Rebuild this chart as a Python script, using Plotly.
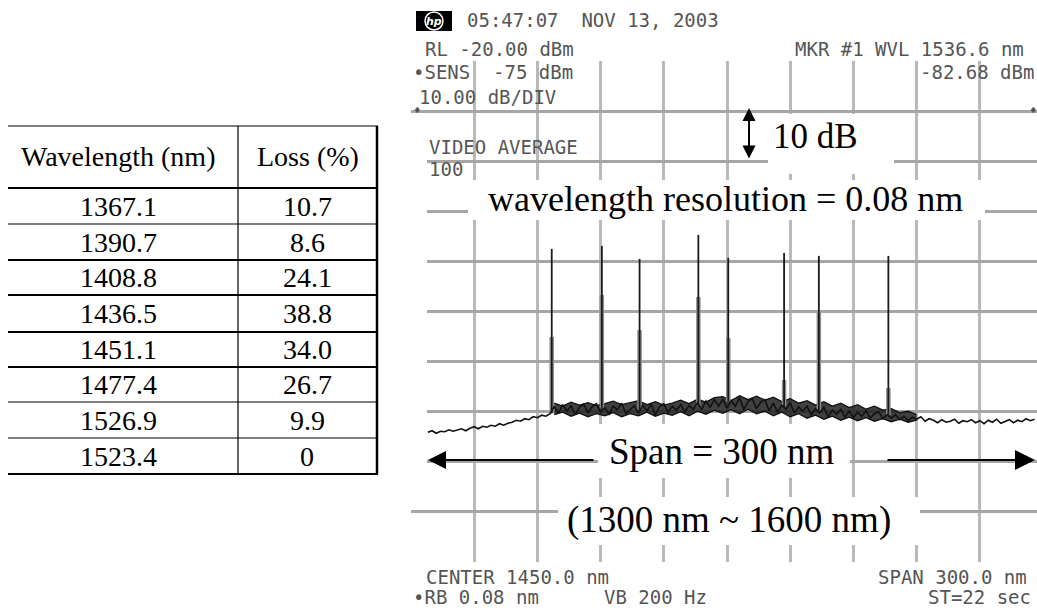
import plotly.graph_objects as go

# ---------------- data ----------------
table_header = ["Wavelength (nm)", "Loss (%)"]
table_wavelength = ["1367.1", "1390.7", "1408.8", "1436.5", "1451.1", "1477.4", "1526.9", "1523.4"]
table_loss = ["10.7", "8.6", "24.1", "38.8", "34.0", "26.7", "9.9", "0"]

# spectrum peaks
peak_nm = [1366.8, 1390.6, 1408.5, 1436.4, 1450.6, 1477.1, 1493.6, 1526.6]
peak_top_dbm = [-57.5, -56.9, -59.5, -54.7, -59.3, -58.3, -58.9, -58.9]
peak_shoulder_dbm = [-75.1, -66.7, -73.7, -67.1, -75.3, -83.7, -70.3, -85.3]
peak_base_dbm = [-90.3, -89.2, -89.6, -88.8, -88.0, -88.9, -89.7, -90.6]

floor_nm = list(range(1308, 1598, 2))
floor_dbm = [
    -94.1, -93.8, -94.3, -93.9, -94.0, -93.6, -93.9, -93.7, -93.4, -93.8,
    -93.3, -93.0, -93.4, -92.9, -93.1, -92.7, -92.9, -92.4, -92.7, -92.3,
    -92.1, -91.7, -91.9, -91.4, -91.6, -91.0, -91.2, -90.7, -90.9, -90.4,
    -89.0, -90.3, -88.6, -89.9, -88.8, -90.6, -89.1, -88.5, -90.2, -89.0,
    -88.4, -90.1, -89.2, -90.5, -88.9, -89.6, -88.3, -90.4, -89.5, -88.8,
    -90.3, -88.7, -89.8, -88.5, -90.6, -89.0, -88.4, -90.1, -88.9, -89.7,
    -88.6, -90.0, -88.8, -89.5, -88.2, -89.6, -87.9, -89.1, -87.6, -88.9,
    -87.5, -89.3, -87.8, -88.9, -87.2, -89.6, -88.0, -87.4, -89.4, -88.1,
    -87.6, -89.8, -88.3, -90.1, -88.7, -89.5, -88.2, -90.3, -89.0, -89.9,
    -88.9, -90.7, -89.4, -90.2, -89.1, -91.0, -89.7, -90.5, -89.5, -91.1,
    -89.9, -91.2, -90.1, -90.9, -89.8, -91.3, -90.4, -90.0, -91.4, -90.6,
    -91.3, -90.6, -91.6, -90.9, -91.8, -91.1, -91.5, -91.0, -91.9, -91.4,
    -91.7, -92.2, -91.6, -92.1, -91.9, -91.5, -92.3, -91.8, -92.0, -91.6,
    -92.2, -91.8, -92.4, -91.7, -92.1, -91.5, -92.3, -91.9, -91.6, -92.2,
    -91.7, -92.0, -91.4, -91.8, -91.5,
]

# upper / lower edges of the dense noise band in the middle, 4 nm sampling
band_nm = list(range(1368, 1544, 4))
band_hi_dbm = [
    -88.3, -88.9, -88.1, -88.7, -88.2, -88.8, -88.4, -87.9, -88.6, -88.2,
    -87.8, -88.6, -88.0, -88.7, -88.3, -87.7, -88.4, -87.5, -88.1, -87.2,
    -87.0, -87.8, -86.8, -87.6, -86.9, -87.7, -87.1, -88.0, -87.4, -88.3,
    -87.8, -88.7, -88.0, -88.9, -88.3, -89.2, -88.6, -89.5, -88.9, -89.7,
    -89.4, -90.2, -89.9, -90.6,
]
band_lo_dbm = [
    -90.6, -90.1, -90.9, -90.3, -91.0, -90.4, -90.8, -90.2, -91.0, -90.4,
    -90.8, -90.1, -90.9, -90.3, -90.7, -90.0, -90.8, -89.9, -90.5, -89.7,
    -90.3, -89.6, -90.4, -89.5, -90.4, -89.9, -90.8, -90.1, -91.0, -90.4,
    -91.3, -90.7, -91.5, -90.9, -91.7, -91.1, -91.8, -91.2, -91.9, -91.4,
    -92.0, -91.5, -92.1, -91.7,
]

# OSA settings
ref_level_dbm = -20
db_per_div = 10
start_nm, span_nm = 1300, 300

# ---------------- geometry helpers ----------------
W, H = 1037, 612
PLOT_L, PLOT_T, PLOT_B = 411, 61, 562
PX_PER_NM = 632 / span_nm


def px(x):
    return x / W


def py(y):
    return (PLOT_B - y) / (PLOT_B - PLOT_T)


fig = go.Figure()

# dense noise band
fig.add_trace(go.Scatter(x=band_nm, y=band_lo_dbm, mode="lines",
                         line=dict(color="#111111", width=1.3), hoverinfo="skip", showlegend=False))
fig.add_trace(go.Scatter(x=band_nm, y=band_hi_dbm, mode="lines", fill="tonexty",
                         fillcolor="rgba(30,30,30,0.85)",
                         line=dict(color="#111111", width=1.3), hoverinfo="skip", showlegend=False))

# gray (averaged) part of the spikes and the black spikes
gx, gy, bx, by = [], [], [], []
for lam, top, sh, base in zip(peak_nm, peak_top_dbm, peak_shoulder_dbm, peak_base_dbm):
    gx += [lam, lam, None]
    gy += [base, sh, None]
    bx += [lam, lam, None]
    by += [base, top, None]

fig.add_trace(go.Scatter(x=gx, y=gy, mode="lines", line=dict(color="#8e8e8e", width=4.5),
                         hoverinfo="skip", showlegend=False))
fig.add_trace(go.Scatter(x=bx, y=by, mode="lines", line=dict(color="#1a1a1a", width=1.8),
                         hoverinfo="skip", showlegend=False))
fig.add_trace(go.Scatter(x=floor_nm, y=floor_dbm, mode="lines",
                         line=dict(color="#111111", width=1.6),
                         hoverinfo="skip", showlegend=False))

x_end = start_nm + (W - PLOT_L) / PX_PER_NM
fig.update_xaxes(domain=[PLOT_L / W, 1], range=[start_nm, x_end], tick0=start_nm,
                 dtick=span_nm / 10, showticklabels=False, ticks="", showgrid=True,
                 gridcolor="#b9b9b9", gridwidth=3, zeroline=False, showline=False,
                 fixedrange=True)
fig.update_yaxes(range=[ref_level_dbm - 10 * db_per_div, ref_level_dbm], tick0=ref_level_dbm,
                 dtick=db_per_div, showticklabels=False, ticks="", showgrid=True,
                 gridcolor="#a6a6a6", gridwidth=3, zeroline=False, showline=False,
                 fixedrange=True)


def white_box(x0, x1, y0, y1):
    return dict(type="rect", xref="paper", yref="paper", x0=px(x0), x1=px(x1),
                y0=py(y1), y1=py(y0), fillcolor="white", line=dict(width=0), layer="above")


shapes = [
    white_box(407, 427, 114, 509),     # blank strip at the left edge of the screen
    white_box(768, 894, 114, 174),     # behind "10 dB"
    white_box(468, 985, 180, 220),     # behind resolution label
    white_box(598, 850, 424, 478),     # behind span label
    white_box(558, 920, 497, 545),     # behind range label
]

# table lines
row_y = [126, 188, 224, 260, 295, 332, 367, 402, 438, 474]
row_w = [1.2, 2, 1.2, 2, 2, 2, 2, 1.2, 1.2, 2]
TL, TM, TR = 8, 238, 377
for yv, wv in zip(row_y, row_w):
    shapes.append(dict(type="line", xref="paper", yref="paper", x0=px(TL), x1=px(TR + 1),
                       y0=py(yv), y1=py(yv), line=dict(color="black", width=wv)))
shapes.append(dict(type="line", xref="paper", yref="paper", x0=px(TM), x1=px(TM),
                   y0=py(row_y[0]), y1=py(row_y[-1]), line=dict(color="black", width=1.2)))
shapes.append(dict(type="line", xref="paper", yref="paper", x0=px(TR), x1=px(TR),
                   y0=py(row_y[0]), y1=py(row_y[-1]), line=dict(color="black", width=2.5)))

# hp logo
shapes.append(dict(type="rect", xref="paper", yref="paper", x0=px(416), x1=px(452),
                   y0=py(31), y1=py(11), fillcolor="black", line=dict(width=0), layer="above"))
shapes.append(dict(type="circle", xref="paper", yref="paper", x0=px(425), x1=px(443),
                   y0=py(30), y1=py(12), line=dict(color="white", width=1.5), layer="above"))

ann = []
SERIF = "Liberation Serif"
MONO = "DejaVu Sans Mono"
TC = "#555555"

# table text
col1_x, col2_x = 118, 307
ann.append(dict(x=px(col1_x), y=py((row_y[0] + row_y[1]) / 2), text=table_header[0]))
ann.append(dict(x=px(col2_x + 1), y=py((row_y[0] + row_y[1]) / 2), text=table_header[1]))
for i, (wl, ls) in enumerate(zip(table_wavelength, table_loss)):
    yc = (row_y[i + 1] + row_y[i + 2]) / 2
    ann.append(dict(x=px(col1_x), y=py(yc), text=wl))
    ann.append(dict(x=px(col2_x), y=py(yc), text=ls))
for a in ann:
    a.update(xref="paper", yref="paper", showarrow=False, xanchor="center", yanchor="middle",
             font=dict(family=SERIF, size=28, color="black"))


def mono(x, y, text, size=19):
    return dict(x=px(x), y=py(y), xref="paper", yref="paper", text=text, showarrow=False,
                xanchor="left", yanchor="middle", font=dict(family=MONO, size=size, color=TC))


ann += [
    dict(x=px(434), y=py(21), xref="paper", yref="paper", text="<i><b>hp</b></i>",
         showarrow=False, xanchor="center", yanchor="middle",
         font=dict(family="DejaVu Sans", size=11, color="white")),
    mono(465, 20, "05:47:07  NOV 13, 2003"),
    mono(423, 49, "RL -20.00 dBm"),
    mono(793, 49, "MKR #1 WVL 1536.6 nm"),
    mono(411, 72, "•SENS  -75 dBm"),
    mono(918, 72, "-82.68 dBm"),
    mono(417, 97, "10.00 dB/DIV"),
    mono(427, 147, "VIDEO AVERAGE"),
    mono(427, 169, "100"),
    mono(424, 577, "CENTER 1450.0 nm"),
    mono(876, 577, "SPAN 300.0 nm"),
    mono(411, 597, "•RB 0.08 nm"),
    mono(602, 597, "VB 200 Hz"),
    mono(926, 597, "ST=22 sec"),
    mono(412, 111, "♦", size=11),
    mono(1028, 111, "♦", size=11),
]


def label(x, y, text, size, anchor="center"):
    return dict(x=px(x), y=py(y), xref="paper", yref="paper", text=text, showarrow=False,
                xanchor=anchor, yanchor="middle", font=dict(family=SERIF, size=size, color="black"))


ann += [
    label(771, 136, "10 dB", 35, anchor="left"),
    label(725, 199, "wavelength resolution = 0.08 nm", 36),
    label(722, 451, "Span = 300 nm", 37),
    label(729, 520, "(1300 nm ~ 1600 nm)", 37),
]

# arrows
ann += [
    dict(x=px(749), y=py(108), xref="paper", yref="paper", ax=0, ay=52, axref="pixel",
         ayref="pixel", text="", showarrow=True, arrowside="end+start", arrowhead=2,
         startarrowhead=2, arrowsize=1.3, startarrowsize=1.3, arrowwidth=2, arrowcolor="black"),
    dict(x=px(428), y=py(460), xref="paper", yref="paper", ax=167, ay=0, text="",
         showarrow=True, arrowhead=2, arrowsize=1.8, arrowwidth=2, arrowcolor="black"),
    dict(x=px(1035), y=py(460), xref="paper", yref="paper", ax=-149, ay=0, text="",
         showarrow=True, arrowhead=2, arrowsize=2, arrowwidth=2, arrowcolor="black"),
]

fig.update_layout(width=W, height=H, margin=dict(l=0, r=0, t=PLOT_T, b=H - PLOT_B, pad=0),
                  paper_bgcolor="white", plot_bgcolor="white", shapes=shapes,
                  annotations=ann, showlegend=False)

fig.write_html("out.html")
